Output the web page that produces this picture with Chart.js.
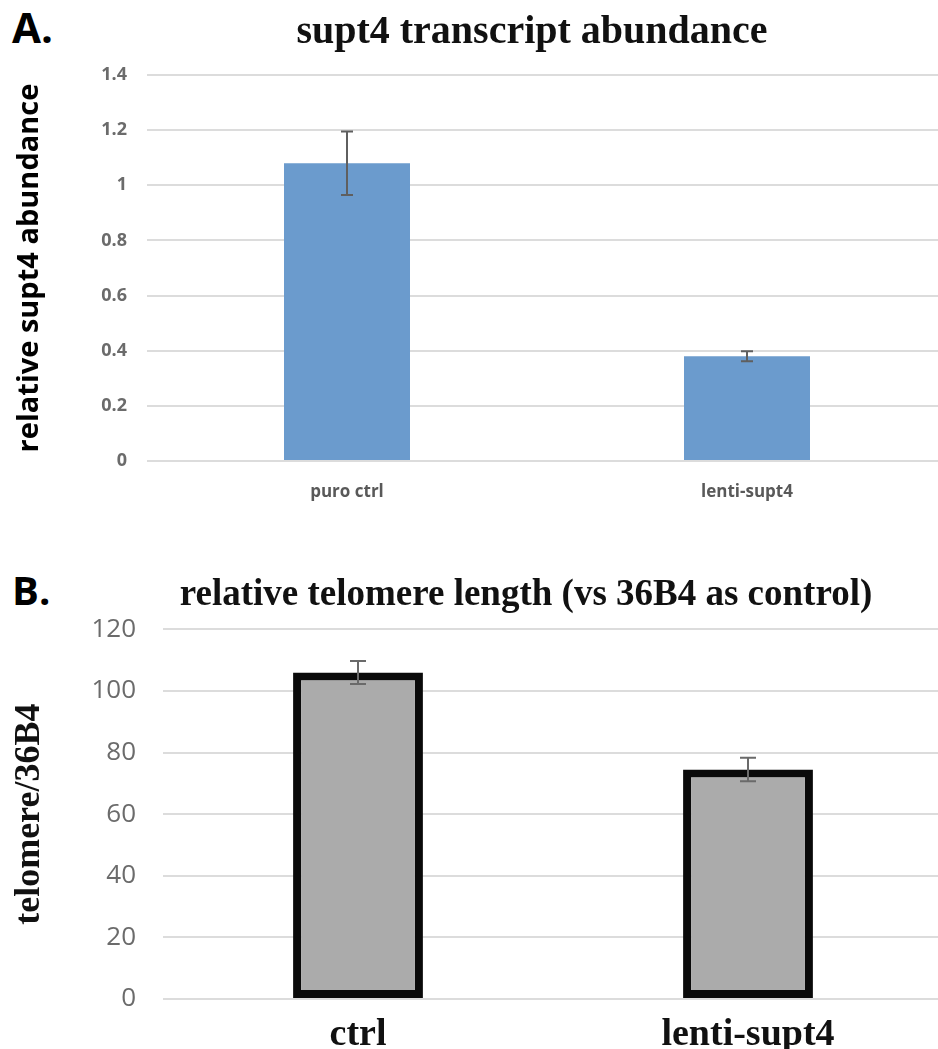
<!DOCTYPE html>
<html>
<head>
<meta charset="utf-8">
<script src="https://cdn.jsdelivr.net/npm/chart.js@4.4.1/dist/chart.umd.min.js"></script>
<style>
    html, body { margin: 0; padding: 0; background: #fff; overflow: hidden; }
    #page { position: relative; width: 938px; height: 1049px; overflow: hidden; }
    .panel { position: absolute; font-family: "Open Sans", sans-serif; font-weight: 700; line-height: 1; color: #000; }
    .wrap { position: absolute; left: 0; }
</style>
</head>
<body>
<div id="page">
    <div class="panel" style="left:12px; top:6px; font-size:42px;">A.</div>
    <div class="panel" style="left:12px; top:570px; font-size:40px;">B.</div>
    <div class="wrap" style="top:0; width:1064px; height:530px;"><canvas id="chartA"></canvas></div>
    <div class="wrap" style="top:560px; width:1052px; height:489px;"><canvas id="chartB"></canvas></div>
</div>
<script>
// Panel A: supt4 transcript abundance
const categoriesA = ['puro ctrl', 'lenti-supt4'];
const valuesA = [1.08, 0.38];
const errorsA = [0.115, 0.018];
const tickLabelsA = ['0', '0.2', '0.4', '0.6', '0.8', '1', '1.2', '1.4'];

// Panel B: relative telomere length
const categoriesB = ['ctrl', 'lenti-supt4'];
const valuesB = [106, 74.5];
const errorsB = [3.7, 3.8];
const tickLabelsB = ['0', '20', '40', '60', '80', '100', '120'];

// draws the error bars through the y scale
const errorBars = {
    id: 'errorBars',
    afterDatasetsDraw(chart, args, opts) {
        const ctx = chart.ctx;
        const yScale = chart.scales.y;
        chart.data.datasets.forEach((ds, di) => {
            const meta = chart.getDatasetMeta(di);
            meta.data.forEach((bar, i) => {
                const v = ds.data[i];
                const e = ds.errors[i];
                const top = yScale.getPixelForValue(v + e);
                const bottom = yScale.getPixelForValue(v - e);
                ctx.save();
                ctx.strokeStyle = opts.color;
                ctx.lineWidth = opts.width;
                ctx.beginPath();
                ctx.moveTo(bar.x, top);
                ctx.lineTo(bar.x, bottom);
                ctx.moveTo(bar.x - opts.cap, top);
                ctx.lineTo(bar.x + opts.cap, top);
                ctx.moveTo(bar.x - opts.cap, bottom);
                ctx.lineTo(bar.x + opts.cap, bottom);
                ctx.stroke();
                ctx.restore();
            });
        });
    }
};

// empty right-hand axis, only reserves room so the title centres like the original
function spacerAxis(w) {
    return {
        position: 'right',
        display: true,
        grid: { display: false },
        border: { display: false },
        ticks: { display: false },
        afterFit(scale) { scale.width = w; }
    };
}

const chartA = new Chart(document.getElementById('chartA'), {
    type: 'bar',
    data: {
        labels: categoriesA,
        datasets: [{
            data: valuesA,
            errors: errorsA,
            backgroundColor: '#6b9bcd',
            borderWidth: 0,
            barPercentage: 0.315,
            categoryPercentage: 1
        }]
    },
    options: {
        responsive: true,
        maintainAspectRatio: false,
        animation: false,
        scales: {
            x: {
                grid: { display: false },
                border: { display: false },
                ticks: {
                    padding: 13,
                    color: '#595959',
                    font: { family: 'Open Sans', size: 17, weight: 'bold' }
                },
                afterFit(scale) { scale.height = 69; }
            },
            y: {
                min: 0,
                max: 1.4,
                border: { display: false },
                grid: { color: '#dcdcdc', lineWidth: 2, drawTicks: false },
                ticks: {
                    stepSize: 0.2,
                    padding: 20,
                    color: '#6b6b6b',
                    font: { family: 'Open Sans', size: 18, weight: 'bold' },
                    callback: function(value, index) {
                        return tickLabelsA[index];
                    }
                },
                title: {
                    display: true,
                    text: 'relative supt4 abundance',
                    color: '#000',
                    padding: { top: 12, bottom: 0 },
                    font: { family: 'Open Sans', size: 29, weight: 'bold' }
                },
                afterFit(scale) { scale.width = 147; }
            },
            spacer: spacerAxis(117)
        },
        plugins: {
            legend: { display: false },
            tooltip: { enabled: false },
            title: {
                display: true,
                text: 'supt4 transcript abundance',
                color: '#111',
                padding: { top: 9, bottom: 18 },
                font: { family: 'Liberation Serif', size: 40, weight: 'bold' }
            },
            errorBars: { color: '#5f5f5f', width: 2, cap: 6 }
        }
    },
    plugins: [errorBars]
});

const chartB = new Chart(document.getElementById('chartB'), {
    type: 'bar',
    data: {
        labels: categoriesB,
        datasets: [{
            data: valuesB,
            errors: errorsB,
            backgroundColor: '#ababab',
            borderColor: '#0a0a0a',
            borderWidth: 8,
            borderSkipped: false,
            barPercentage: 0.333,
            categoryPercentage: 1
        }]
    },
    options: {
        responsive: true,
        maintainAspectRatio: false,
        animation: false,
        scales: {
            x: {
                grid: { display: false },
                border: { display: false },
                ticks: {
                    padding: 5,
                    color: '#111',
                    font: { family: 'Liberation Serif', size: 38, weight: 'bold' }
                },
                afterFit(scale) { scale.height = 50; }
            },
            y: {
                min: 0,
                max: 120,
                border: { display: false },
                grid: { color: '#dcdcdc', lineWidth: 2, drawTicks: false },
                ticks: {
                    stepSize: 20,
                    padding: 27,
                    color: '#6b6b6b',
                    font: { family: 'Open Sans', size: 26 },
                    callback: function(value, index) {
                        return tickLabelsB[index];
                    }
                },
                title: {
                    display: true,
                    text: 'telomere/36B4',
                    color: '#111',
                    padding: { top: 8, bottom: 0 },
                    font: { family: 'Liberation Serif', size: 36, weight: 'bold' }
                },
                afterFit(scale) { scale.width = 163; }
            },
            spacer: spacerAxis(109)
        },
        plugins: {
            legend: { display: false },
            tooltip: { enabled: false },
            title: {
                display: true,
                text: 'relative telomere length (vs 36B4 as control)',
                color: '#111',
                padding: { top: 13, bottom: 12 },
                font: { family: 'Liberation Serif', size: 37, weight: 'bold' }
            },
            errorBars: { color: '#6a6a6a', width: 2, cap: 8 }
        }
    },
    plugins: [errorBars]
});
</script>
</body>
</html>
